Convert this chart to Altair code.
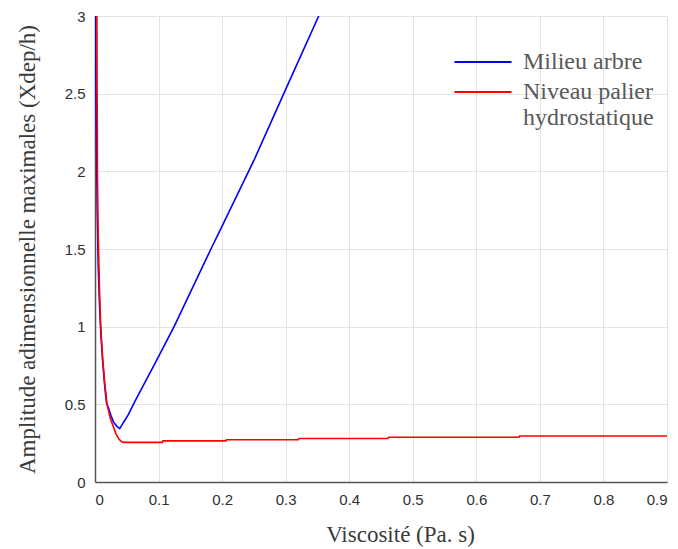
import altair as alt
import pandas as pd

blue_name = "Milieu arbre"
red_name = "Niveau palier hydrostatique"

blue_x = [0.0008, 0.0015, 0.0025, 0.0035, 0.005, 0.007, 0.009, 0.012, 0.015, 0.018,
          0.021, 0.025, 0.029, 0.034, 0.039, 0.045, 0.052, 0.063, 0.079, 0.094,
          0.113, 0.125, 0.1824, 0.2, 0.25, 0.297, 0.352]
blue_y = [3.0, 2.55, 2.1, 1.75, 1.4, 1.15, 0.97, 0.78, 0.63, 0.51,
          0.48, 0.43, 0.387, 0.36, 0.344, 0.385, 0.43, 0.52, 0.645, 0.76,
          0.91, 1.005, 1.5, 1.647, 2.07, 2.5, 3.0]

red_x = [0.003, 0.0038, 0.005, 0.007, 0.009, 0.012, 0.015, 0.019, 0.024, 0.029,
         0.033, 0.037, 0.041, 0.045, 0.106, 0.107, 0.206, 0.207, 0.32, 0.321,
         0.461, 0.462, 0.667, 0.668, 0.9]
red_y = [3.0, 2.0, 1.6, 1.25, 1.0, 0.8, 0.65, 0.5, 0.41, 0.355,
         0.31, 0.28, 0.262, 0.255, 0.255, 0.265, 0.265, 0.272, 0.272, 0.28,
         0.28, 0.288, 0.288, 0.296, 0.296]

x_ticks = [0, 0.1, 0.2, 0.3, 0.4, 0.5, 0.6, 0.7, 0.8, 0.9]
y_ticks = [0, 0.5, 1, 1.5, 2, 2.5, 3]

df = pd.concat([
    pd.DataFrame({"x": blue_x, "y": blue_y, "serie": blue_name}),
    pd.DataFrame({"x": red_x, "y": red_y, "serie": red_name}),
])

legend = alt.Legend(
    title=None, orient="none", legendX=376, legendY=34,
    symbolType="M-3,0H3", symbolSize=361, symbolStrokeWidth=2.2, labelOffset=28,
    labelFont="Liberation Serif", labelFontSize=24,
    labelColor="#595959", rowPadding=6, labelLimit=300,
    labelExpr="datum.label == 'Niveau palier hydrostatique' ? ['Niveau palier', 'hydrostatique'] : datum.label",
)

chart = alt.Chart(df).mark_line(strokeWidth=1.6, clip=True).encode(
    x=alt.X("x:Q",
            scale=alt.Scale(domain=[0, 0.9], nice=False, zero=False),
            axis=alt.Axis(values=x_ticks, format="~g", title="Viscosité (Pa. s)",
                          titleX=305, titleY=59, titleAlign="center",
                          titleBaseline="alphabetic", labelPadding=10)),
    y=alt.Y("y:Q",
            scale=alt.Scale(domain=[0, 3], nice=False),
            axis=alt.Axis(values=y_ticks, format="~g",
                          title="Amplitude adimensionnelle maximales (Xdep/h)",
                          titleX=-68, titleY=233, titleAlign="center",
                          titleBaseline="middle", titleAngle=270, labelPadding=10)),
    color=alt.Color("serie:N",
                    scale=alt.Scale(domain=[blue_name, red_name], range=["#0000ff", "#ff0000"]),
                    legend=legend),
    order="x:Q",
).properties(
    width=572, height=466,
    autosize=alt.AutoSizeParams(type="none"),
    padding={"left": 87, "top": 8, "right": 3, "bottom": 75},
).configure_view(stroke=None).configure_axis(
    grid=True, gridColor="#e3e3e3", gridWidth=1,
    domainColor="#555555", domainWidth=1.5,
    ticks=False,
    labelFont="Liberation Sans", labelFontSize=15, labelColor="#303030",
    titleFont="Liberation Serif", titleFontSize=23, titleFontWeight="normal",
    titleColor="#3a3a3a",
)

chart.save("out.html", embed_options={"renderer": "svg", "actions": False})
